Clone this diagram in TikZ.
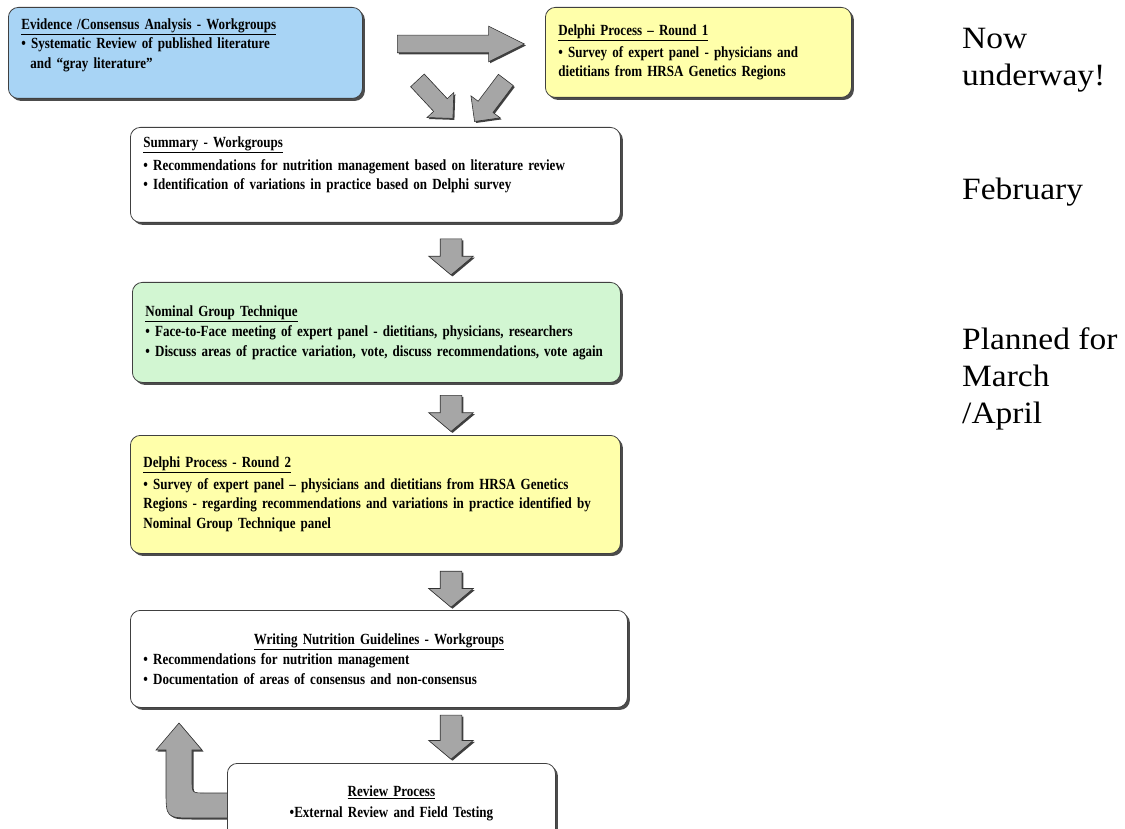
\documentclass[tikz,border=0pt]{standalone}
\usepackage{fontspec}
\setmainfont{Liberation Serif}
\newfontfamily\boxfont[FakeStretch=0.84]{Liberation Serif}
\newfontfamily\notefont[FakeStretch=1.08]{Liberation Serif}
\usetikzlibrary{positioning,calc,shapes.arrows,shadows}

\definecolor{evidblue}{RGB}{168,212,245}
\definecolor{delphiyellow}{RGB}{255,255,170}
\definecolor{ngtgreen}{RGB}{210,246,210}
\definecolor{arrowgray}{RGB}{166,166,166}

\newcommand{\bul}{\textbullet\ }

\tikzset{
  stage/.style={draw=black!75, line width=0.8pt, rounded corners=10pt,
    anchor=north west, align=left, inner xsep=13pt, inner ysep=0pt,
    font=\boxfont\bfseries\fontsize{15.5}{19.5}\selectfont,
    drop shadow={shadow xshift=2.5pt, shadow yshift=-2.5pt, fill=black!70, opacity=1}},
  fatarrow/.style={single arrow, draw=black!80, line width=0.6pt, fill=arrowgray,
    single arrow head extend=11.5pt, single arrow tip angle=100,
    drop shadow={shadow xshift=1.5pt, shadow yshift=-1.5pt, fill=black!75, opacity=1}},
  downarrow/.style={fatarrow, shape border rotate=270, inner xsep=10.5pt, inner ysep=0pt,
    minimum height=36pt},
  slantarrow/.style={fatarrow, inner xsep=0pt, inner ysep=9pt, single arrow head extend=9pt,
    single arrow tip angle=90, minimum height=52pt},
  backarrow/.style={draw=black!80, line width=0.6pt, fill=arrowgray,
    drop shadow={shadow xshift=1.5pt, shadow yshift=-1.5pt, fill=black!75, opacity=1}},
  note/.style={anchor=north west, align=left, inner sep=0pt,
    font=\notefont\fontsize{31}{37}\selectfont}
}

\begin{document}
\begin{tikzpicture}[x=1pt,y=-1pt]
\useasboundingbox (0,0) rectangle (1125,829);

% stages
\node[stage, fill=evidblue, minimum height=91pt, text width=328pt] (evid) at (8,7)
  {\underline{Evidence /Consensus Analysis - Workgroups}\\
   \bul Systematic Review of published literature\\
   \hspace*{9pt}and “gray literature”\\[0pt] \mbox{}};
\node[stage, fill=delphiyellow, minimum height=90pt, text width=280pt] (delphiA) at (545,7)
  {\underline{Delphi Process – Round 1}\\[2pt]
   \bul Survey of expert panel - physicians and\\
   dietitians from HRSA Genetics Regions};
\node[stage, fill=white, minimum height=95pt, text width=464pt] (summ) at (130,127)
  {\underline{Summary - Workgroups}\\[3pt]
   \bul Recommendations for nutrition management based on literature review\\
   \bul Identification of variations in practice based on Delphi survey\\[4pt] \mbox{}};
\node[stage, fill=ngtgreen, minimum height=100pt, text width=462pt] (ngt) at (132,282)
  {\underline{Nominal Group Technique}\\[1pt]
   \bul Face-to-Face meeting of expert panel - dietitians, physicians, researchers\\
   \bul Discuss areas of practice variation, vote, discuss recommendations, vote again};
\node[stage, fill=delphiyellow, minimum height=118pt, text width=464pt] (delphiB) at (130,435)
  {\underline{Delphi Process - Round 2}\\[2pt]
   \bul Survey of expert panel – physicians and dietitians from HRSA Genetics\\
   Regions - regarding recommendations and variations in practice identified by\\
   Nominal Group Technique panel};
\node[stage, fill=white, minimum height=97pt, text width=471pt] (writing) at (130,610)
  {\centerline{\underline{Writing Nutrition Guidelines - Workgroups}}\\[1pt]
   \bul Recommendations for nutrition management\\
   \bul Documentation of areas of consensus and non-consensus};

% loop back
\draw[backarrow] (231,793) -- (205,793) .. controls (192,793) .. (192,780)
  -- (192,750) -- (202,750) -- (179,723) -- (156,750) -- (166,750) -- (166,790)
  .. controls (166,818) .. (194,818) -- (231,818) -- cycle;

\node[stage, fill=white, minimum height=80pt, text width=302pt, align=center] (review) at (227,763)
  {\underline{Review Process}\\[2pt]
   \textbullet External Review and Field Testing};

% arrows
\coordinate (axis) at (451,0);
\node[fatarrow, inner xsep=0pt, inner ysep=8.5pt, single arrow head extend=9pt,
  single arrow tip angle=53, minimum height=127pt] (a0) at (452,44) {};
\node[slantarrow, rotate=-47] (d1) at (432,96) {};
\node[slantarrow, rotate=-127] (d2) at (493,97) {};
\node[downarrow] (a1) at ($(summ.south -| axis)!.5!(ngt.north -| axis)$) {};
\node[downarrow] (a2) at ($(ngt.south -| axis)!.5!(delphiB.north -| axis)$) {};
\node[downarrow] (a3) at ($(delphiB.south -| axis)!.55!(writing.north -| axis)$) {};
\node[downarrow, minimum height=44pt] (a4) at ($(writing.south -| axis)!.45!(review.north -| axis)$) {};

% timing notes
\node[note] (now) at (962,28.5) {Now\\underway!};
\node[note] (feb) at (962,178) {February};
\node[note] (plan) at (962,327) {Planned for\\March\\/April};
\end{tikzpicture}
\end{document}
